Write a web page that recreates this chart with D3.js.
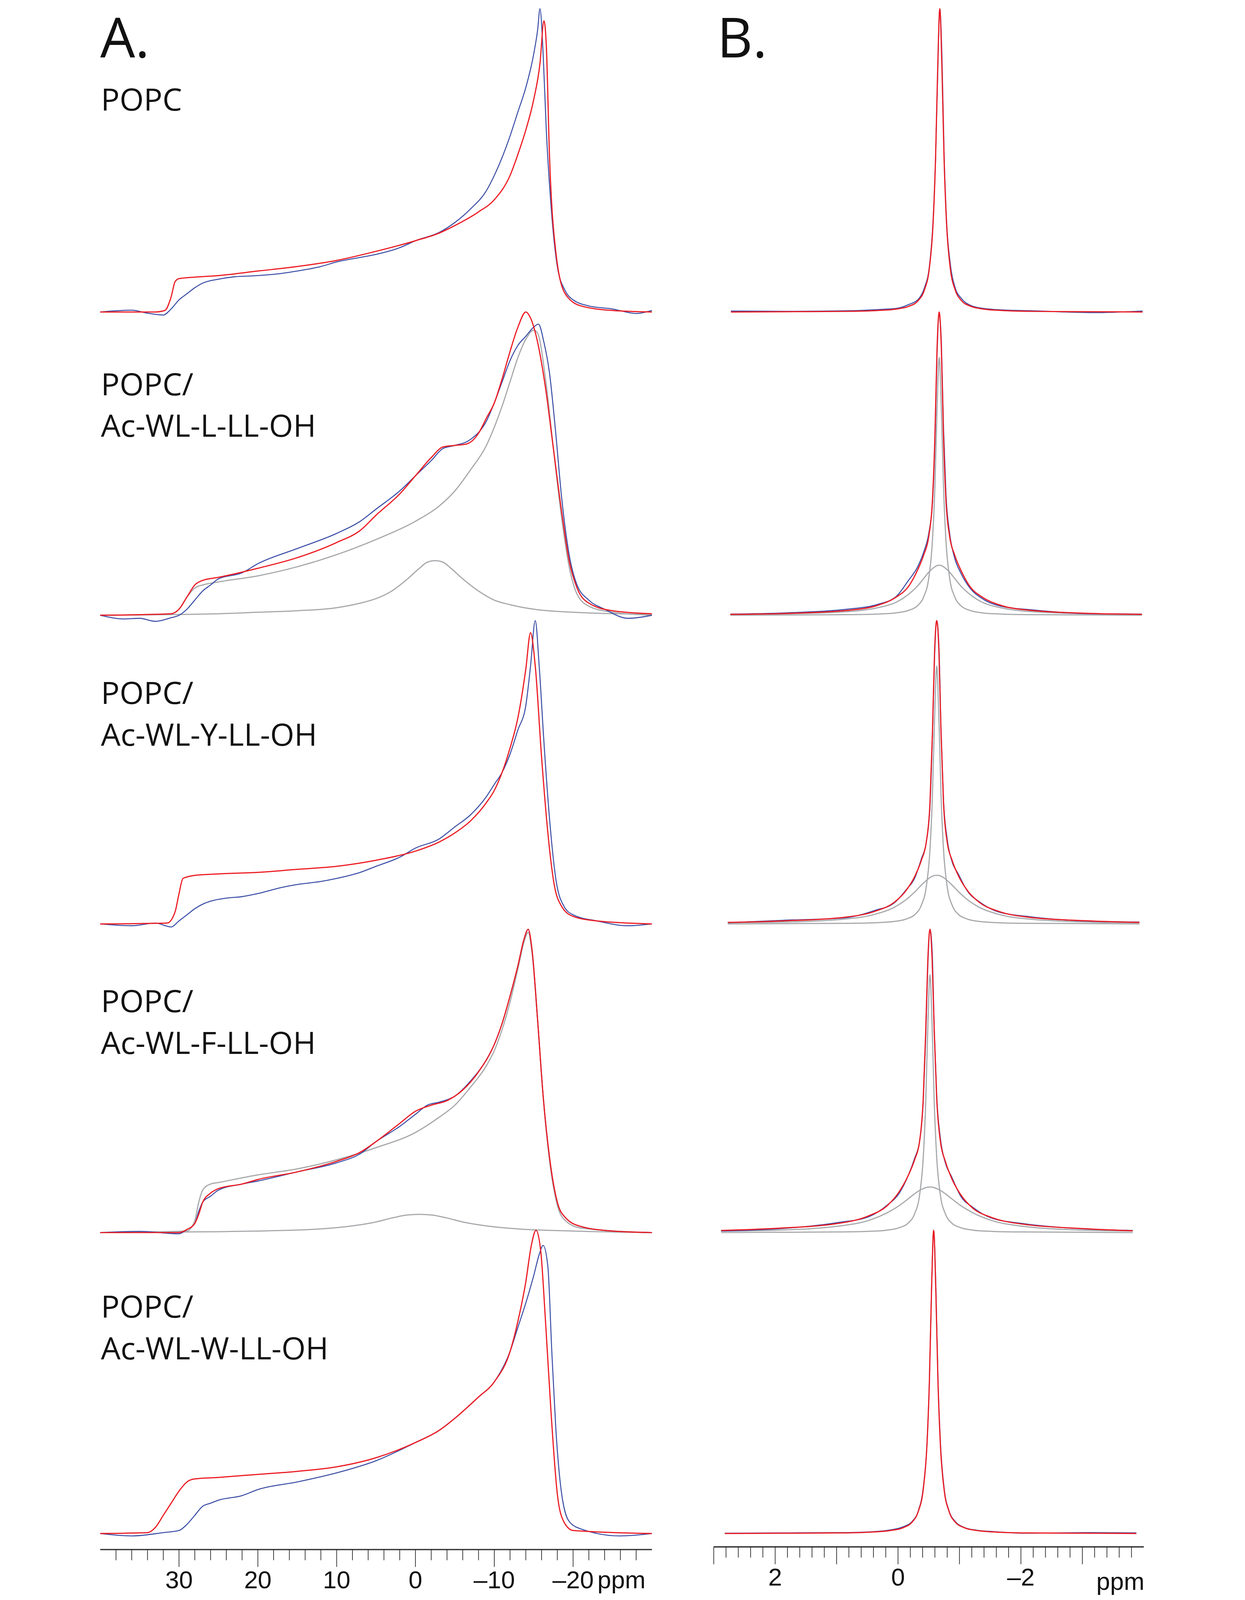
<!DOCTYPE html>
<html lang="en">
<head>
<meta charset="UTF-8">
<title>31P NMR spectra</title>
<script src="https://d3js.org/d3.v7.min.js"></script>
<style>
  html, body { margin: 0; padding: 0; background: #fff; overflow: hidden; }
  svg { display: block; width: 100vw; height: 100vh; }
  svg text { font-family: 'Open Sans', sans-serif; fill: #111; }
  .tick-label { font-family: 'Liberation Sans Narrow', 'Arial Narrow', sans-serif; }
</style>
</head>
<body>
<svg viewBox="0 0 3186 4790" preserveAspectRatio="xMidYMin meet"></svg>
<script>
// ---- data ----
const sampleNames = [
  ["POPC"],
  ["POPC/", "Ac-WL-L-LL-OH"],
  ["POPC/", "Ac-WL-Y-LL-OH"],
  ["POPC/", "Ac-WL-F-LL-OH"],
  ["POPC/", "Ac-WL-W-LL-OH"]
];

// panel A: static spectra, [ppm, relative intensity]
const staticExp = [
  [[40,0],[36,0.006],[34,-0.004],[32,-0.01],[31,0.01],[30,0.04],[29,0.06],[28,0.08],[27,0.095],[25,0.108],[23,0.116],[20,0.12],[17,0.127],[15,0.135],[12,0.15],[10,0.165],[7,0.18],[5,0.19],[2,0.212],[0,0.235],[-3,0.262],[-5,0.295],[-7,0.34],[-9,0.4],[-10,0.45],[-11,0.51],[-12,0.58],[-13,0.66],[-14,0.74],[-15,0.85],[-15.5,0.93],[-15.8,1.0],[-16.2,0.85],[-16.6,0.6],[-17.2,0.35],[-18,0.15],[-19,0.07],[-20,0.04],[-22,0.02],[-25,0.01],[-28,-0.005],[-30,0.005]],
  [[40,0],[37,-0.012],[35,-0.01],[33,-0.02],[31,-0.008],[30,0],[29,0.02],[28,0.05],[27,0.08],[26,0.1],[25,0.12],[22,0.14],[20,0.17],[15,0.22],[10,0.27],[7,0.31],[5,0.35],[2,0.41],[0,0.46],[-2,0.51],[-3.5,0.55],[-5,0.56],[-7,0.58],[-9,0.64],[-10,0.7],[-11,0.77],[-12,0.84],[-13,0.89],[-14,0.92],[-15,0.95],[-15.6,0.96],[-16.3,0.9],[-17,0.8],[-17.8,0.6],[-18.5,0.4],[-19.5,0.2],[-20.5,0.1],[-22,0.05],[-24,0.02],[-27,-0.01],[-30,0]],
  [[40,0],[36,-0.006],[33,0.003],[31,-0.01],[30,0.01],[29,0.03],[28,0.05],[27,0.065],[26,0.075],[24,0.085],[22,0.09],[20,0.1],[17,0.12],[15,0.13],[12,0.14],[10,0.15],[7,0.17],[5,0.19],[2,0.22],[0,0.25],[-3,0.28],[-5,0.32],[-7,0.36],[-9,0.42],[-10,0.46],[-11,0.5],[-12,0.56],[-13,0.64],[-14,0.72],[-14.6,0.85],[-15.2,1.0],[-15.7,0.85],[-16.3,0.6],[-17,0.35],[-17.8,0.15],[-18.8,0.06],[-20,0.03],[-23,0.01],[-27,-0.006],[-30,0]],
  [[40,0],[35,0.004],[30,-0.004],[29,0.01],[28,0.03],[27.5,0.07],[27,0.1],[26,0.12],[25,0.14],[22,0.16],[20,0.17],[15,0.2],[10,0.23],[7,0.26],[5,0.3],[2,0.35],[0,0.39],[-1.5,0.42],[-3,0.43],[-5,0.45],[-7,0.5],[-9,0.57],[-10,0.62],[-11,0.69],[-12,0.78],[-13,0.88],[-13.8,0.97],[-14.3,1.0],[-14.8,0.93],[-15.5,0.7],[-16.2,0.45],[-17,0.25],[-18,0.1],[-19,0.05],[-21,0.02],[-25,0.005],[-30,0]],
  [[40,0],[36,-0.008],[32,0.003],[30,0.01],[29,0.03],[28,0.06],[27,0.09],[26,0.1],[25,0.11],[22,0.125],[20,0.145],[15,0.17],[10,0.2],[5,0.24],[0,0.3],[-3,0.34],[-5,0.38],[-8,0.45],[-10,0.5],[-12,0.6],[-13,0.68],[-14,0.76],[-15,0.85],[-15.7,0.92],[-16.2,0.95],[-16.8,0.88],[-17.3,0.6],[-17.8,0.35],[-18.5,0.14],[-19.5,0.04],[-21,0.015],[-26,-0.008],[-30,0]]
];
const staticFit = [
  [[40,0],[33,0],[31.8,0.005],[31,0.05],[30.5,0.1],[30,0.11],[28,0.115],[25,0.12],[20,0.135],[15,0.15],[10,0.17],[5,0.2],[0,0.235],[-3,0.26],[-5,0.285],[-8,0.33],[-10,0.37],[-12,0.45],[-13,0.52],[-14,0.6],[-15,0.7],[-15.8,0.82],[-16.3,0.96],[-16.6,0.88],[-17,0.52],[-17.8,0.2],[-19,0.06],[-21,0.02],[-25,0.005],[-30,0]],
  [[40,0],[31,0.005],[30,0.02],[29,0.06],[28,0.1],[27,0.115],[25,0.125],[20,0.155],[15,0.19],[10,0.24],[7,0.28],[5,0.33],[2,0.4],[0,0.46],[-2,0.52],[-3.5,0.555],[-5,0.56],[-6.5,0.565],[-8,0.6],[-9,0.65],[-10,0.7],[-11,0.78],[-12,0.87],[-13,0.95],[-14,1.0],[-14.6,0.98],[-15.5,0.9],[-16.5,0.75],[-17.5,0.55],[-18.5,0.35],[-19.5,0.18],[-20.5,0.09],[-22,0.04],[-25,0.015],[-30,0.005]],
  [[40,0],[31.5,0.003],[30.5,0.04],[30,0.1],[29.5,0.15],[28,0.16],[25,0.165],[20,0.17],[15,0.18],[10,0.19],[5,0.21],[0,0.24],[-3,0.27],[-5,0.3],[-7,0.34],[-9,0.4],[-10,0.44],[-11,0.5],[-12,0.58],[-13,0.68],[-14,0.84],[-14.6,0.96],[-15.2,0.85],[-16,0.55],[-16.8,0.3],[-17.6,0.13],[-18.5,0.06],[-20,0.025],[-23,0.01],[-30,0]],
  [[40,0],[30,0],[29,0.01],[28,0.03],[27.5,0.06],[27,0.1],[26,0.13],[25,0.145],[22,0.16],[20,0.175],[15,0.2],[10,0.235],[7,0.265],[5,0.3],[2,0.36],[0,0.4],[-2,0.42],[-4,0.435],[-6,0.47],[-8,0.53],[-10,0.62],[-11,0.69],[-12,0.78],[-13,0.88],[-13.8,0.97],[-14.3,1.0],[-14.8,0.93],[-15.5,0.7],[-16.2,0.45],[-17,0.25],[-18,0.1],[-19,0.05],[-21,0.02],[-25,0.005],[-30,0]],
  [[40,0],[34,0.003],[33,0.02],[32,0.06],[31,0.1],[30,0.14],[29,0.17],[28,0.18],[25,0.185],[20,0.195],[15,0.205],[10,0.22],[5,0.25],[0,0.3],[-3,0.34],[-5,0.38],[-8,0.45],[-10,0.5],[-12,0.6],[-13,0.7],[-14,0.83],[-14.7,0.95],[-15.3,1.0],[-15.9,0.93],[-16.5,0.7],[-17.2,0.4],[-18,0.13],[-18.8,0.04],[-20,0.01],[-30,0]]
];
// fitted components (grey), per row, may be empty
const staticComponents = [
  [],
  [
    [[40,0],[31,0.005],[30,0.02],[29,0.06],[28,0.09],[27,0.1],[25,0.11],[20,0.13],[15,0.16],[10,0.2],[5,0.25],[0,0.31],[-3,0.36],[-5,0.41],[-7,0.48],[-9,0.56],[-10,0.62],[-11,0.69],[-12,0.77],[-13,0.85],[-14,0.91],[-15,0.94],[-15.5,0.93],[-16.5,0.78],[-17.5,0.55],[-18.5,0.33],[-19.5,0.16],[-20.5,0.07],[-22,0.03],[-25,0.01],[-30,0]],
    [[40,0],[25,0.005],[20,0.01],[15,0.015],[10,0.025],[7,0.04],[5,0.055],[3,0.08],[1,0.12],[-0.5,0.155],[-1.5,0.175],[-2.5,0.18],[-3.5,0.175],[-4.5,0.155],[-6,0.12],[-8,0.08],[-10,0.05],[-12,0.035],[-15,0.02],[-20,0.01],[-30,0.003]]
  ],
  [],
  [
    [[40,0],[29,0.005],[28,0.04],[27.5,0.1],[27,0.14],[26,0.16],[25,0.165],[20,0.19],[15,0.21],[10,0.24],[5,0.28],[0,0.33],[-3,0.38],[-5,0.42],[-7,0.48],[-9,0.55],[-10,0.6],[-11,0.67],[-12,0.76],[-13,0.87],[-13.8,0.96],[-14.3,0.99],[-14.8,0.92],[-15.5,0.7],[-16.2,0.45],[-17,0.24],[-18,0.09],[-19,0.04],[-21,0.015],[-30,0]],
    [[40,0],[20,0.005],[12,0.012],[8,0.022],[5,0.035],[3,0.048],[1,0.058],[-0.5,0.06],[-2,0.058],[-4,0.048],[-6,0.035],[-9,0.022],[-13,0.012],[-20,0.005],[-30,0]]
  ],
  []
];

// panel B: MAS spectra, line centre (ppm) and intensities at offsets from it
const masCentres = [-0.68, -0.67, -0.63, -0.52, -0.58];
const masOffsets = [-3.3,-2.5,-1.5,-1.0,-0.7,-0.5,-0.35,-0.25,-0.17,-0.11,-0.07,-0.035,0,0.035,0.07,0.11,0.17,0.25,0.35,0.5,0.7,1.0,1.5,2.5,3.4];
const masExp = [
  [0.003,-0.002,0.004,0.007,0.012,0.022,0.045,0.08,0.16,0.3,0.52,0.84,1.0,0.78,0.5,0.3,0.15,0.08,0.042,0.025,0.012,0.008,0.004,0.002,0.003],
  [0.004,0.005,0.018,0.03,0.055,0.09,0.14,0.19,0.27,0.4,0.62,0.9,0.99,0.86,0.57,0.37,0.27,0.21,0.16,0.115,0.062,0.036,0.02,0.008,0.004],
  [0.006,0.009,0.024,0.04,0.072,0.108,0.165,0.205,0.28,0.41,0.64,0.92,1.0,0.88,0.62,0.39,0.27,0.215,0.155,0.112,0.068,0.045,0.02,0.012,0.004],
  [0.007,0.012,0.03,0.048,0.083,0.12,0.185,0.23,0.31,0.45,0.67,0.93,1.0,0.88,0.64,0.43,0.3,0.245,0.19,0.13,0.09,0.052,0.033,0.012,0.005],
  [0.002,0.003,0.001,0.006,0.011,0.02,0.04,0.075,0.15,0.3,0.51,0.82,1.0,0.8,0.5,0.29,0.15,0.075,0.04,0.022,0.012,0.006,0.003,0.002,0.001]
];
const masFit = [
  [0,0.001,0.002,0.005,0.01,0.019,0.038,0.073,0.145,0.29,0.5,0.8,1,0.8,0.5,0.29,0.145,0.073,0.038,0.019,0.01,0.005,0.002,0.001,0],
  [0.003,0.006,0.016,0.033,0.06,0.095,0.15,0.2,0.26,0.38,0.59,0.88,1,0.88,0.59,0.38,0.26,0.2,0.15,0.095,0.06,0.033,0.016,0.006,0.003],
  [0.005,0.01,0.022,0.042,0.07,0.11,0.16,0.21,0.27,0.4,0.63,0.9,1,0.9,0.63,0.4,0.27,0.21,0.16,0.11,0.07,0.042,0.022,0.01,0.005],
  [0.006,0.013,0.028,0.05,0.08,0.125,0.18,0.235,0.3,0.44,0.66,0.9,1,0.9,0.66,0.44,0.3,0.24,0.19,0.135,0.088,0.055,0.03,0.014,0.007],
  [0,0.001,0.002,0.005,0.01,0.019,0.038,0.073,0.145,0.29,0.5,0.8,1,0.8,0.5,0.29,0.145,0.073,0.038,0.019,0.01,0.005,0.002,0.001,0]
];
const masNarrow = [0,0.001,0.002,0.004,0.008,0.016,0.032,0.062,0.123,0.246,0.425,0.68,0.85,0.68,0.425,0.246,0.123,0.062,0.032,0.016,0.008,0.004,0.002,0.001,0];
const masComponents = [
  [],
  [masNarrow, [0.003,0.005,0.012,0.025,0.043,0.069,0.097,0.122,0.142,0.154,0.16,0.164,0.165,0.164,0.16,0.154,0.142,0.122,0.097,0.069,0.043,0.025,0.012,0.005,0.003]],
  [masNarrow, [0.004,0.006,0.016,0.032,0.054,0.08,0.107,0.128,0.143,0.153,0.157,0.16,0.16,0.16,0.157,0.153,0.143,0.128,0.107,0.08,0.054,0.032,0.016,0.006,0.004]],
  [masNarrow, [0.005,0.008,0.021,0.04,0.065,0.089,0.112,0.128,0.139,0.145,0.148,0.15,0.15,0.15,0.148,0.145,0.139,0.128,0.112,0.089,0.065,0.04,0.021,0.008,0.005]],
  []
];

const ticksA = { major: [30, 20, 10, 0, -10, -20], minorStep: 2, minorFrom: 38, minorTo: -28 };
const ticksB = { major: [3, 2, 1, 0, -1, -2, -3], labelled: [2, 0, -2], minorStep: 0.2, minorFrom: 2.8, minorTo: -3.8 };

// ---- layout ----
const svg = d3.select("svg");
const baselines = [934, 1842, 2766, 3690, 4591];
const rowHeight = 908;
const colours = { exp: "#3b4ea6", fit: "#ec1c24", comp: "#a7a9ac" };

const xA = d3.scaleLinear().domain([40, -30]).range([30, 1681]);
const xB = d3.scaleLinear().domain([3, -4]).range([1866, 3153]);

function drawCurve(pts, x, y, colour, width) {
  const sorted = pts.slice().sort((a, b) => x(a[0]) - x(b[0]));
  svg.append("path")
    .datum(sorted)
    .attr("fill", "none")
    .attr("stroke", colour)
    .attr("stroke-width", width)
    .attr("stroke-linejoin", "round")
    .attr("d", d3.line().x(d => x(d[0])).y(d => y(d[1])).curve(d3.curveMonotoneX));
}

baselines.forEach((b, i) => {
  const y = d3.scaleLinear().domain([0, 1]).range([b, b - rowHeight]);

  // panel A
  staticComponents[i].forEach(c => drawCurve(c, xA, y, colours.comp, 3.5));
  drawCurve(staticExp[i], xA, y, colours.exp, 3);
  drawCurve(staticFit[i], xA, y, colours.fit, 3.5);

  // panel B
  const toPts = vals => vals.map((v, k) => [masCentres[i] + masOffsets[k], v]);
  masComponents[i].forEach(c => drawCurve(toPts(c), xB, y, colours.comp, 3.5));
  drawCurve(toPts(masExp[i]), xB, y, colours.exp, 3);
  drawCurve(toPts(masFit[i]), xB, y, colours.fit, 3.5);
});

// sample labels
const labelTops = [331, 1183, 2107, 3030, 3945];
sampleNames.forEach((lines, i) => {
  lines.forEach((t, j) => {
    svg.append("text")
      .attr("x", 32).attr("y", labelTops[i] + j * 125)
      .style("font-size", "93px")
      .text(t);
  });
});

svg.append("text").attr("x", 30).attr("y", 172).style("font-size", "165px").text("A.");
svg.append("text").attr("x", 1876).attr("y", 172).style("font-size", "165px").text("B.");

// axes
function drawAxis(x, ticks, yLine, labelled) {
  const g = svg.append("g");
  const [x0, x1] = x.range();
  g.append("line").attr("x1", x0).attr("x2", x1).attr("y1", yLine).attr("y2", yLine)
    .attr("stroke", "#333").attr("stroke-width", 4);
  const minor = d3.range(ticks.minorFrom, ticks.minorTo - ticks.minorStep / 2, -ticks.minorStep)
    .filter(v => !ticks.major.some(m => Math.abs(m - v) < 1e-6));
  g.selectAll("line.minor").data(minor).join("line").attr("class", "minor")
    .attr("x1", d => x(d)).attr("x2", d => x(d))
    .attr("y1", yLine).attr("y2", yLine + 32)
    .attr("stroke", "#222").attr("stroke-width", 2);
  g.selectAll("line.major").data(ticks.major).join("line").attr("class", "major")
    .attr("x1", d => x(d)).attr("x2", d => x(d))
    .attr("y1", yLine).attr("y2", yLine + 52)
    .attr("stroke", "#222").attr("stroke-width", 2);
  g.selectAll("text").data(labelled).join("text")
    .attr("class", "tick-label")
    .attr("x", d => x(d)).attr("y", yLine + 116)
    .attr("text-anchor", "middle")
    .style("font-size", "74px")
    .text(d => d < 0 ? "\u2013" + Math.abs(d) : d);
  return g;
}

drawAxis(xA, ticksA, 4639, ticksA.major);
svg.append("text").attr("class", "tick-label").attr("x", 1518).attr("y", 4755)
  .style("font-size", "74px").text("ppm");
drawAxis(xB, ticksB, 4631, ticksB.labelled);
svg.append("text").attr("class", "tick-label").attr("x", 3011).attr("y", 4760)
  .style("font-size", "74px").text("ppm");
</script>
</body>
</html>
